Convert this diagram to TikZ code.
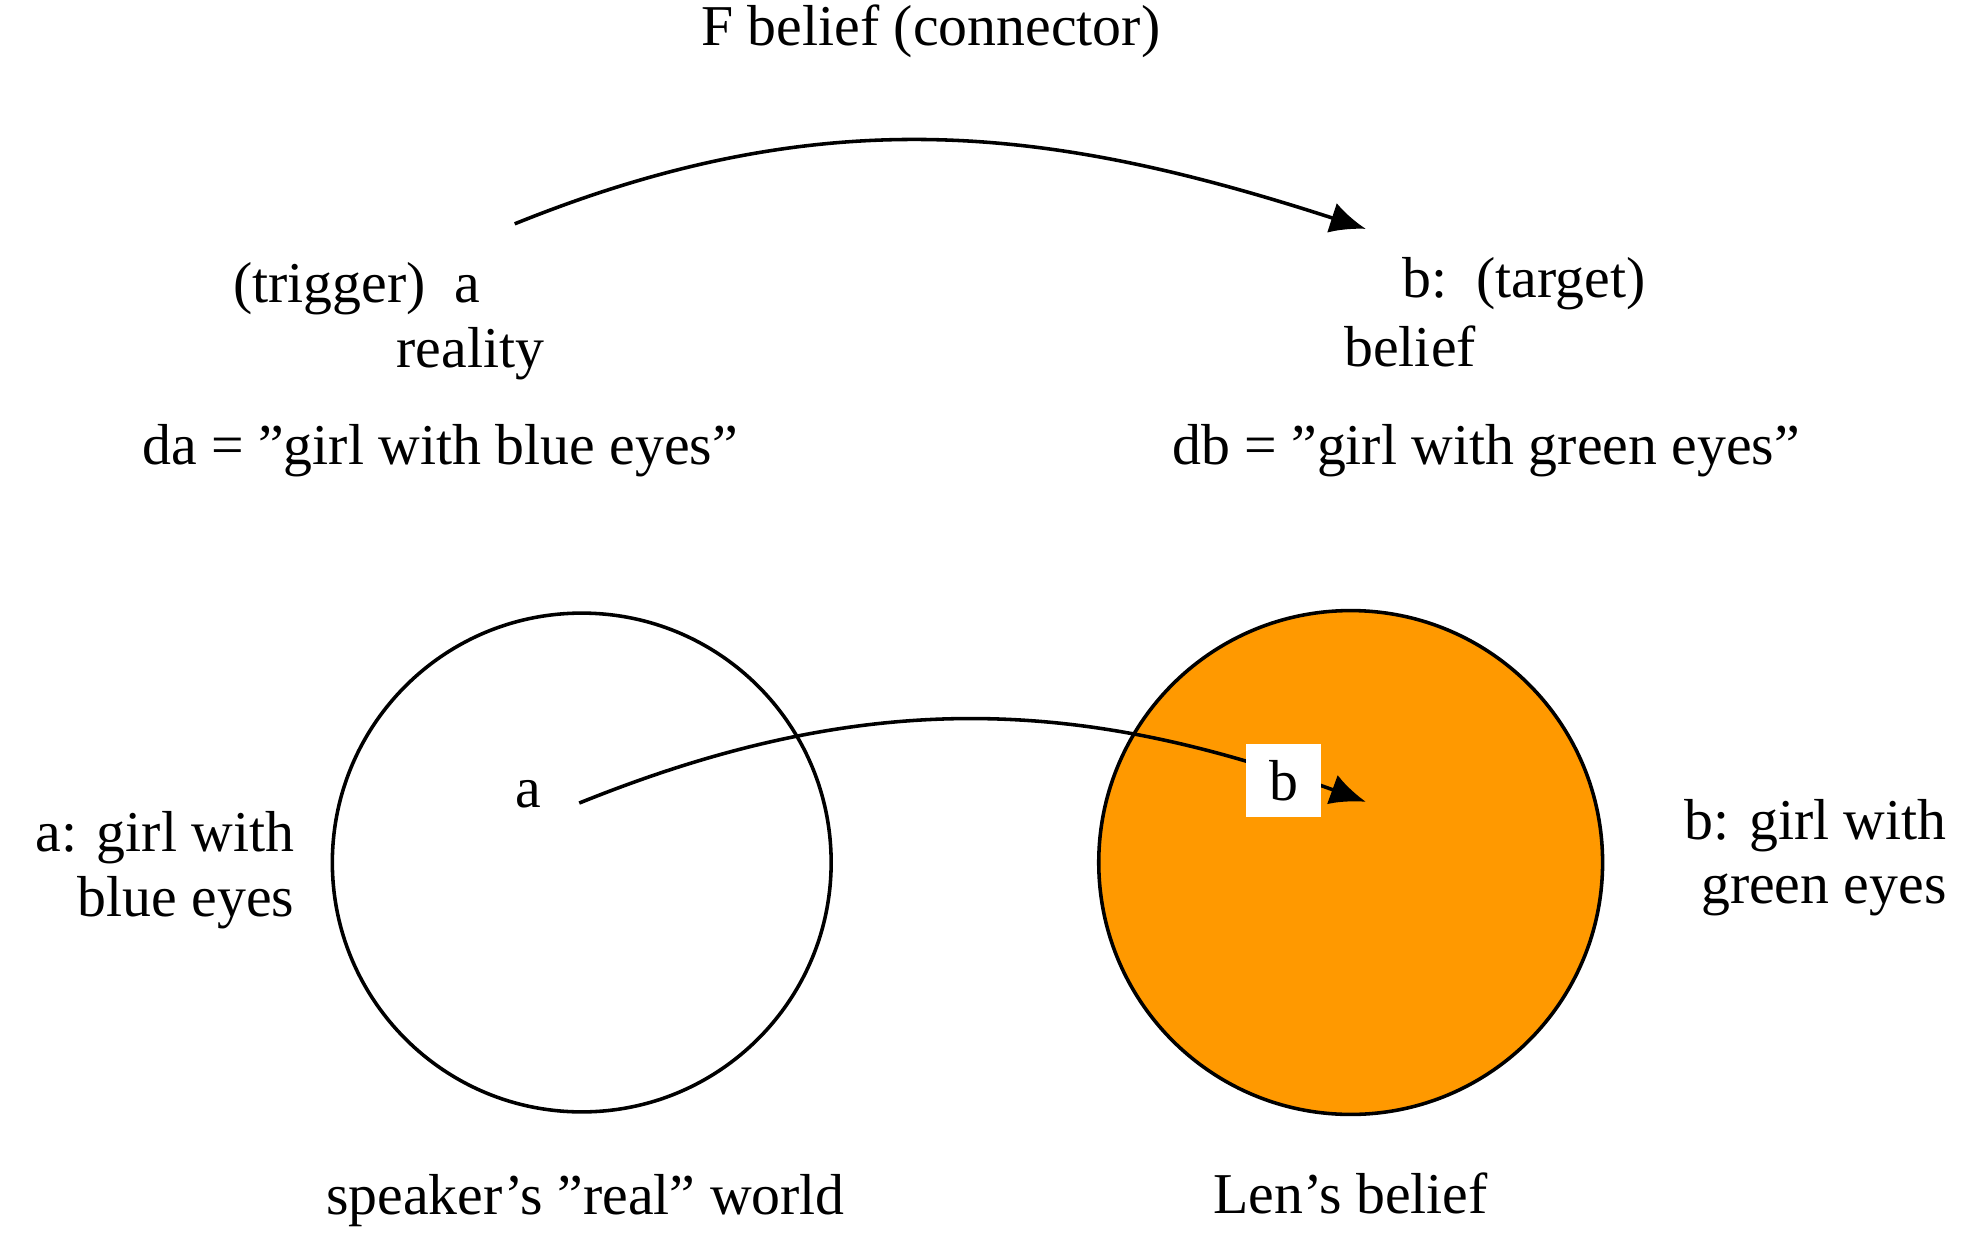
\documentclass[tikz,border=0pt]{standalone}
\usepackage{fontspec}
\setmainfont{Liberation Serif}
\usetikzlibrary{arrows.meta, positioning}
\definecolor{beliefOrange}{RGB}{255,153,0}
\tikzset{
  lbl/.style={font=\fontsize{26}{29}\selectfont, inner sep=0pt},
  world/.style={draw, line width=1.6pt, circle},
  conn/.style={line width=1.6pt, -{Latex[length=16pt,width=14pt]}}
}
\begin{document}
\begin{tikzpicture}[x=0.02cm, y=-0.02cm]
    \useasboundingbox (0,0) rectangle (1568,986);
    % top: connector
    \node[lbl] (title) at (736,25) {F belief (connector)};
    \coordinate (trigA) at (407,177);
    \coordinate (targB) at (1080,181);
    \draw[conn] (trigA) to[out=22, in=162] (targB);
    \node[lbl] (trig) at (282,228) {(trigger)\ \ a};
    \node[lbl] (real) at (372,280) {reality};
    \node[lbl] (targ) at (1205,224) {b:\ \ (target)};
    \node[lbl] (blf) at (1115,274) {belief};
    \node[lbl] (da) at (348,356) {da = "girl with blue eyes"};
    \node[lbl] (db) at (1175,356) {db = "girl with green eyes"};

    % bottom: the two worlds
    \node[world, minimum size=396pt*0.5669] (realW) at (460,682) {};
    \node[world, fill=beliefOrange, minimum size=400pt*0.5669] (lenW) at (1068,682) {};
    \node[lbl] (ea) at (418,628) {a};
    \coordinate (startA) at (458,635);
    \coordinate (endB) at (1080,634);
    \draw[conn] (startA) to[out=22, in=160] (endB);
    \node[fill=white, minimum width=60*0.5669pt, minimum height=58*0.5669pt, inner sep=0pt] (boxB) at (1015,617) {};
    \node[lbl] (eb) at (boxB) {b};
    \node[lbl, align=right, anchor=east] (descA) at (233,688) {a: girl with\\blue eyes};
    \node[lbl, align=right, anchor=west] (descB) at (1294,678) {b: girl with\\\phantom{b: }green eyes};
    \node[lbl] (spk) at (463,949) {speaker's "real" world};
    \node[lbl] (len) at (1068,944) {Len's belief};
\end{tikzpicture}
\end{document}
